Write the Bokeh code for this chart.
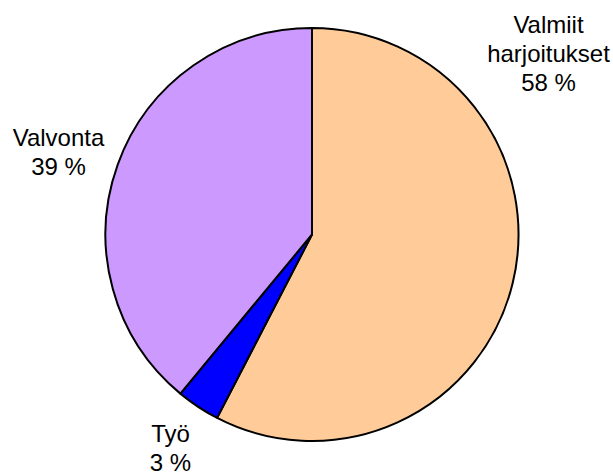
import math
from bokeh.plotting import figure
from bokeh.models import ColumnDataSource, Range1d
from bokeh.core.properties import value
from bokeh.embed import file_html
from bokeh.resources import INLINE

# Data
categories = ["Valmiit\nharjoitukset", "Työ", "Valvonta"]
shares = [57.6, 3.4, 39.0]
pct_labels = ["58 %", "3 %", "39 %"]
colors = ["#FFCC99", "#0000FF", "#CC99FF"]

# Layout (figure pixels, 1 data unit = 1 px)
W, H = 613, 474
cx, cy, r = 311.5, 240.0, 206.5
label_pos = [(548.0, 464.0), (170.0, 55.0), (58.0, 351.0)]

total = sum(shares)
starts, ends = [], []
a = math.pi / 2
for s in shares:
    starts.append(a)
    a -= s / total * 2 * math.pi
    ends.append(a)

src = ColumnDataSource(dict(start=starts, end=ends, color=colors))

p = figure(width=W, height=H, output_backend="svg", toolbar_location=None,
           x_range=Range1d(0, W), y_range=Range1d(0, H),
           min_border=0, outline_line_color=None)
p.axis.visible = False
p.grid.visible = False
p.background_fill_color = "white"
p.border_fill_color = "white"

p.wedge(x=cx, y=cy, radius=r, start_angle="start", end_angle="end",
        direction="clock", fill_color="color", line_color="black",
        line_width=2, source=src)

tsrc = ColumnDataSource(dict(
    x=[lp[0] for lp in label_pos],
    y=[lp[1] for lp in label_pos],
    text=[f"{c}\n{pl}" for c, pl in zip(categories, pct_labels)],
))
p.text(x="x", y="y", text="text", source=tsrc, text_align="center",
       text_baseline="top", text_font=value("Liberation Sans"),
       text_font_size="24px", text_color="black", text_line_height=1.09)

open("out.html", "w").write(file_html(p, INLINE))
